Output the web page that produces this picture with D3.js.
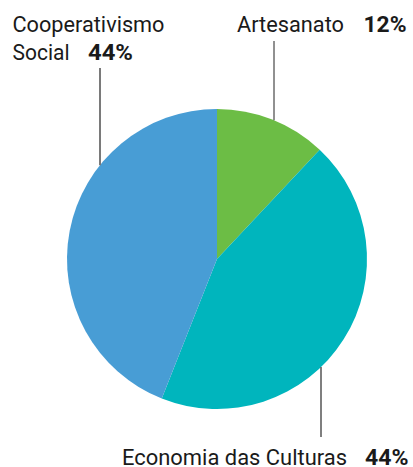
<!DOCTYPE html>
<html>
<head>
<meta charset="utf-8">
<script src="https://cdn.jsdelivr.net/npm/d3@7"></script>
<style>
  html, body { margin: 0; padding: 0; background: #fff; }
  text { font-family: Roboto, "Noto Sans", sans-serif; fill: #1a1a1a; }
</style>
</head>
<body>
<svg id="chart" width="413" height="467"></svg>
<script>
// Share of projects by area
const categories = ["Artesanato", "Economia das Culturas", "Cooperativismo Social"];
const values = [12, 44, 44];
const colors = ["#6cbd45", "#00b5bd", "#489dd5"];

// Label lines for each slice (the last line carries the percentage)
const labelLines = [
  ["Artesanato"],
  ["Economia das Culturas"],
  ["Cooperativismo", "Social"]
];

const svg = d3.select("#chart");
const cx = 217, cy = 259, r = 150;
const fontSize = 22.5;

const pie = d3.pie().sort(null).value(d => d)(values);
const arc = d3.arc().innerRadius(0).outerRadius(r);

const g = svg.append("g").attr("transform", `translate(${cx},${cy})`);
g.selectAll("path")
  .data(pie)
  .join("path")
  .attr("d", arc)
  .attr("fill", (d, i) => colors[i]);

// Label placement: per line start x and condensed width, percentage x and width,
// first baseline, leader line x and its free end
const labelLayout = [
  { x: [237], w: [107], px: 363.5, pw: 43, y: 32.3, lineX: 274, lineTop: 41, stroke: "#222", sw: 1 },
  { x: [122], w: [225], px: 365, pw: 43.5, y: 465, lineX: 321, lineBottom: 437, stroke: "#555", sw: 1.5 },
  { x: [12.5, 12.5], w: [152, 57], px: 88, pw: 45, y: 32.3, lineX: 100, lineTop: 68, stroke: "#7a7a7a", sw: 2 }
];
const lineGap = 27.2;

// y on the circle for a given x (upper or lower half)
function edgeY(x, upper) {
  const dx = x - cx;
  const dy = Math.sqrt(r * r - dx * dx);
  return upper ? cy - dy : cy + dy;
}

labelLayout.forEach((L, i) => {
  const upper = L.lineTop !== undefined;
  const y1 = upper ? L.lineTop : edgeY(L.lineX, false);
  const y2 = upper ? edgeY(L.lineX, true) : L.lineBottom;
  svg.append("line")
    .attr("x1", L.lineX).attr("x2", L.lineX)
    .attr("y1", y1).attr("y2", y2)
    .attr("stroke", L.stroke).attr("stroke-width", L.sw);

  const lines = labelLines[i];
  lines.forEach((t, j) => {
    const y = L.y + j * lineGap;
    svg.append("text")
      .attr("x", L.x[j])
      .attr("y", y)
      .attr("font-size", fontSize)
      .attr("textLength", L.w[j])
      .attr("lengthAdjust", "spacingAndGlyphs")
      .text(t);
    if (j === lines.length - 1) {
      svg.append("text")
        .attr("x", L.px)
        .attr("y", y)
        .attr("font-size", fontSize)
        .attr("font-weight", "bold")
        .attr("textLength", L.pw)
        .attr("lengthAdjust", "spacingAndGlyphs")
        .text(values[i] + "%");
    }
  });
});
</script>
</body>
</html>
